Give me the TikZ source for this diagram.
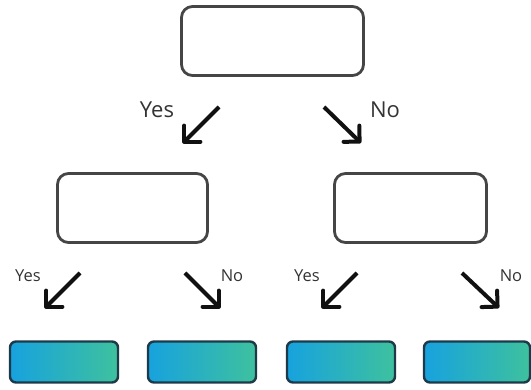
\documentclass[tikz,border=0pt]{standalone}
\usepackage{fontspec}
\setmainfont{Open Sans}
\usetikzlibrary{arrows.meta}
\definecolor{boxline}{HTML}{454545}
\definecolor{leafline}{HTML}{1E3A48}
\definecolor{leafL}{HTML}{17A2DE}
\definecolor{leafR}{HTML}{3EC19E}
\definecolor{txt}{HTML}{333333}
\definecolor{arr}{HTML}{111111}
\begin{document}
\begin{tikzpicture}[x=1pt,y=-1pt,
  decision/.style={draw=boxline,line width=2.8pt,rounded corners=11pt,fill=white,
     minimum width=#1,inner sep=0pt},
  leaf/.style={draw=leafline,line width=2.4pt,rounded corners=6pt,left color=leafL,right color=leafR,
     minimum width=108pt,minimum height=41pt,inner sep=0pt},
  branch/.style={draw=arr,line width=4pt,-{Straight Barb[angle=90:16pt,round=false]}},
  biglab/.style={text=txt,font=\fontsize{22}{22}\selectfont,inner sep=0pt},
  smalllab/.style={text=txt,font=\fontsize{16.5}{16.5}\selectfont,inner sep=0pt}]
\useasboundingbox (0,0) rectangle (531,390);
% decision boxes
\node[decision=182pt,minimum height=69pt] (root) at (272.5,41) {};
\node[decision=150pt,minimum height=69pt] (dl) at (132.5,208) {};
\node[decision=152pt,minimum height=69pt] (dr) at (410.5,208) {};
% leaves
\node[leaf] (l1) at (64,362) {};
\node[leaf] (l2) at (202,362) {};
\node[leaf] (l3) at (341,362) {};
\node[leaf,minimum width=106pt] (l4) at (477,362) {};
% arrow end points
\coordinate (a1s) at (219,107); \coordinate (a1e) at (183,143);
\coordinate (a2s) at (324,107); \coordinate (a2e) at (361,143);
\coordinate (b1s) at (80,273);  \coordinate (b1e) at (45,308);
\coordinate (b2s) at (185,273); \coordinate (b2e) at (220,308);
\coordinate (b3s) at (357,273); \coordinate (b3e) at (322,308);
\coordinate (b4s) at (462,273); \coordinate (b4e) at (499,308);
\draw[branch] (a1s) -- (a1e);
\draw[branch] (a2s) -- (a2e);
\draw[branch] (b1s) -- (b1e);
\draw[branch] (b2s) -- (b2e);
\draw[branch] (b3s) -- (b3e);
\draw[branch] (b4s) -- (b4e);
% labels
\node[biglab] (ly) at (157,110) {Yes};
\node[biglab] (ln) at (385,110) {No};
\node[smalllab] (y1) at (28,276) {Yes};
\node[smalllab] (n1) at (232,276) {No};
\node[smalllab] (y2) at (307,276) {Yes};
\node[smalllab] (n2) at (511,276) {No};
\end{tikzpicture}
\end{document}
